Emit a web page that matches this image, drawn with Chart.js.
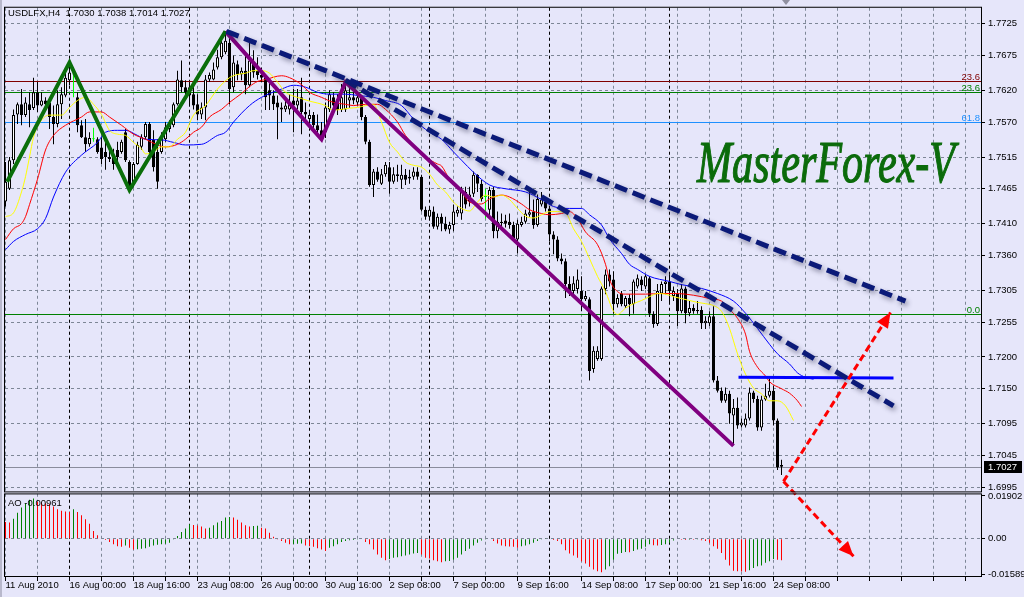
<!DOCTYPE html>
<html><head><meta charset="utf-8">
<script src="https://cdn.jsdelivr.net/npm/chart.js@4.4.1/dist/chart.umd.min.js"></script>
<style>html,body{margin:0;padding:0;background:#E6E6FA;}canvas{display:block;}</style>
</head><body>
<canvas id="c" width="1024" height="597"></canvas>
<script>
const symbol = 'USDLFX', timeframe = 'H4';
const openP = [1.7445,1.7465,1.7510,1.7582,1.7598,1.7581,1.7598,1.7592,1.7617,1.7596,
1.7604,1.7601,1.7578,1.7567,1.7598,1.7612,1.7636,1.7645,1.7609,1.7565,
1.7546,1.7535,1.7543,1.7543,1.7530,1.7523,1.7515,1.7518,1.7526,1.7523,
1.7554,1.7507,1.7471,1.7504,1.7531,1.7546,1.7567,1.7542,1.7523,1.7523,
1.7543,1.7559,1.7565,1.7598,1.7636,1.7625,1.7625,1.7614,1.7598,1.7582,
1.7593,1.7637,1.7637,1.7656,1.7672,1.7680,1.7695,1.7625,1.7661,1.7645,
1.7651,1.7628,1.7664,1.7651,1.7644,1.7640,1.7620,1.7612,1.7601,1.7593,
1.7590,1.7590,1.7604,1.7596,1.7609,1.7586,1.7575,1.7581,1.7565,1.7557,
1.7554,1.7590,1.7609,1.7606,1.7589,1.7590,1.7604,1.7609,1.7601,1.7609,
1.7578,1.7539,1.7471,1.7492,1.7473,1.7488,1.7499,1.7476,1.7488,1.7479,
1.7487,1.7481,1.7484,1.7492,1.7484,1.7432,1.7421,1.7429,1.7405,1.7421,
1.7410,1.7401,1.7408,1.7426,1.7426,1.7460,1.7445,1.7457,1.7487,1.7473,
1.7452,1.7432,1.7463,1.7398,1.7413,1.7415,1.7413,1.7408,1.7385,1.7408,
1.7413,1.7424,1.7429,1.7408,1.7440,1.7445,1.7434,1.7393,1.7385,1.7355,
1.7351,1.7315,1.7304,1.7307,1.7304,1.7291,1.7291,1.7181,1.7197,1.7197,
1.7307,1.7330,1.7322,1.7283,1.7300,1.7280,1.7293,1.7283,1.7311,1.7322,
1.7311,1.7324,1.7268,1.7252,1.7300,1.7315,1.7319,1.7296,1.7300,1.7272,
1.7308,1.7269,1.7277,1.7272,1.7274,1.7253,1.7253,1.7264,1.7163,1.7147,
1.7131,1.7142,1.7108,1.7120,1.7092,1.7092,1.7103,1.7144,1.7134,1.7089,
1.7133,1.7139,1.7147,1.7100,1.7030];
const highP = [1.7507,1.7515,1.7590,1.7601,1.7622,1.7609,1.7617,1.7640,1.7633,1.7617,
1.7609,1.7609,1.7596,1.7620,1.7625,1.7648,1.7664,1.7653,1.7617,1.7573,
1.7575,1.7554,1.7561,1.7546,1.7546,1.7539,1.7528,1.7528,1.7539,1.7542,
1.7559,1.7510,1.7507,1.7539,1.7551,1.7570,1.7570,1.7557,1.7543,1.7554,
1.7570,1.7573,1.7601,1.7651,1.7667,1.7636,1.7633,1.7628,1.7614,1.7601,
1.7644,1.7648,1.7664,1.7684,1.7706,1.7713,1.7703,1.7675,1.7667,1.7656,
1.7675,1.7695,1.7683,1.7672,1.7656,1.7644,1.7636,1.7620,1.7612,1.7601,
1.7604,1.7614,1.7622,1.7622,1.7640,1.7601,1.7586,1.7586,1.7582,1.7570,
1.7601,1.7620,1.7617,1.7614,1.7630,1.7633,1.7625,1.7620,1.7617,1.7612,
1.7581,1.7542,1.7496,1.7499,1.7496,1.7507,1.7507,1.7499,1.7503,1.7503,
1.7496,1.7495,1.7499,1.7499,1.7487,1.7437,1.7437,1.7437,1.7426,1.7426,
1.7421,1.7413,1.7440,1.7437,1.7468,1.7468,1.7468,1.7492,1.7488,1.7479,
1.7465,1.7468,1.7468,1.7429,1.7426,1.7424,1.7426,1.7413,1.7416,1.7421,
1.7432,1.7460,1.7448,1.7456,1.7460,1.7452,1.7437,1.7398,1.7390,1.7363,
1.7355,1.7327,1.7327,1.7338,1.7327,1.7304,1.7294,1.7217,1.7217,1.7311,
1.7338,1.7338,1.7335,1.7299,1.7304,1.7296,1.7299,1.7322,1.7330,1.7327,
1.7330,1.7327,1.7272,1.7315,1.7319,1.7327,1.7330,1.7311,1.7307,1.7315,
1.7311,1.7288,1.7283,1.7288,1.7280,1.7264,1.7272,1.7280,1.7170,1.7152,
1.7152,1.7147,1.7134,1.7136,1.7103,1.7111,1.7152,1.7147,1.7139,1.7139,
1.7158,1.7166,1.7155,1.7103,1.7038];
const lowP = [1.7437,1.7463,1.7504,1.7567,1.7565,1.7578,1.7562,1.7589,1.7586,1.7595,
1.7595,1.7559,1.7535,1.7562,1.7575,1.7609,1.7628,1.7609,1.7554,1.7545,
1.7523,1.7531,1.7539,1.7520,1.7504,1.7495,1.7507,1.7495,1.7499,1.7520,
1.7507,1.7463,1.7467,1.7503,1.7526,1.7543,1.7520,1.7492,1.7465,1.7520,
1.7539,1.7554,1.7562,1.7596,1.7617,1.7609,1.7596,1.7590,1.7573,1.7575,
1.7573,1.7633,1.7636,1.7653,1.7669,1.7677,1.7598,1.7617,1.7636,1.7636,
1.7614,1.7625,1.7640,1.7637,1.7633,1.7589,1.7589,1.7589,1.7543,1.7570,
1.7586,1.7582,1.7554,1.7590,1.7551,1.7570,1.7567,1.7559,1.7550,1.7543,
1.7545,1.7586,1.7586,1.7581,1.7586,1.7586,1.7592,1.7598,1.7596,1.7573,
1.7535,1.7468,1.7452,1.7476,1.7471,1.7484,1.7457,1.7473,1.7476,1.7465,
1.7471,1.7473,1.7479,1.7479,1.7429,1.7416,1.7418,1.7402,1.7401,1.7398,
1.7398,1.7394,1.7398,1.7421,1.7416,1.7434,1.7437,1.7452,1.7460,1.7445,
1.7418,1.7421,1.7387,1.7387,1.7405,1.7404,1.7402,1.7382,1.7363,1.7405,
1.7410,1.7421,1.7402,1.7405,1.7437,1.7429,1.7382,1.7362,1.7351,1.7346,
1.7293,1.7296,1.7296,1.7300,1.7272,1.7288,1.7163,1.7175,1.7194,1.7194,
1.7299,1.7311,1.7268,1.7278,1.7280,1.7277,1.7264,1.7268,1.7308,1.7304,
1.7307,1.7263,1.7246,1.7249,1.7288,1.7299,1.7285,1.7288,1.7249,1.7269,
1.7253,1.7264,1.7268,1.7268,1.7244,1.7244,1.7249,1.7160,1.7144,1.7128,
1.7128,1.7095,1.7061,1.7087,1.7089,1.7089,1.7100,1.7128,1.7084,1.7084,
1.7131,1.7136,1.7092,1.7022,1.7014];
const closeP = [1.7476,1.7510,1.7581,1.7598,1.7581,1.7601,1.7589,1.7617,1.7596,1.7604,
1.7598,1.7578,1.7567,1.7598,1.7614,1.7640,1.7648,1.7645,1.7565,1.7546,
1.7535,1.7545,1.7543,1.7523,1.7512,1.7515,1.7512,1.7504,1.7515,1.7539,
1.7510,1.7468,1.7504,1.7534,1.7546,1.7567,1.7523,1.7499,1.7476,1.7546,
1.7562,1.7567,1.7598,1.7637,1.7625,1.7617,1.7612,1.7596,1.7582,1.7593,
1.7637,1.7644,1.7653,1.7672,1.7695,1.7698,1.7622,1.7664,1.7645,1.7651,
1.7628,1.7667,1.7648,1.7644,1.7640,1.7609,1.7612,1.7598,1.7593,1.7590,
1.7596,1.7601,1.7596,1.7604,1.7586,1.7582,1.7581,1.7565,1.7557,1.7546,
1.7593,1.7614,1.7596,1.7589,1.7609,1.7620,1.7609,1.7604,1.7609,1.7578,
1.7539,1.7471,1.7492,1.7479,1.7488,1.7503,1.7476,1.7488,1.7485,1.7487,
1.7479,1.7484,1.7492,1.7484,1.7432,1.7421,1.7432,1.7405,1.7421,1.7410,
1.7401,1.7408,1.7429,1.7432,1.7460,1.7440,1.7456,1.7487,1.7473,1.7449,
1.7452,1.7463,1.7398,1.7413,1.7411,1.7410,1.7408,1.7387,1.7410,1.7413,
1.7426,1.7428,1.7408,1.7449,1.7448,1.7434,1.7393,1.7385,1.7355,1.7351,
1.7315,1.7304,1.7316,1.7322,1.7291,1.7296,1.7178,1.7210,1.7210,1.7308,
1.7330,1.7319,1.7283,1.7293,1.7283,1.7293,1.7283,1.7319,1.7324,1.7313,
1.7327,1.7268,1.7252,1.7304,1.7315,1.7319,1.7304,1.7304,1.7272,1.7308,
1.7269,1.7277,1.7272,1.7274,1.7253,1.7257,1.7264,1.7163,1.7147,1.7131,
1.7142,1.7111,1.7120,1.7092,1.7097,1.7103,1.7144,1.7134,1.7089,1.7133,
1.7139,1.7147,1.7100,1.7026,1.7027];
const aoValues = [0.0074,0.0072,0.0089,0.0116,0.0139,0.0158,0.0173,0.0179,0.0164,0.0161,
0.0158,0.0154,0.0143,0.0131,0.0124,0.0121,0.0119,0.0131,0.0119,0.0104,
0.0087,0.0067,0.0034,0.0015,-0.0002,-0.0006,-0.0015,-0.0025,-0.0033,-0.0036,
-0.0030,-0.0040,-0.0048,-0.0047,-0.0045,-0.0042,-0.0036,-0.0030,-0.0027,-0.0025,
-0.0022,-0.0018,-0.0003,0.0012,0.0030,0.0045,0.0064,0.0061,0.0059,0.0054,
0.0045,0.0049,0.0060,0.0072,0.0079,0.0094,0.0097,0.0094,0.0084,0.0072,
0.0060,0.0054,0.0057,0.0058,0.0049,0.0045,0.0027,0.0009,-0.0001,-0.0010,
-0.0018,-0.0024,-0.0023,-0.0022,-0.0021,-0.0030,-0.0033,-0.0036,-0.0042,-0.0048,
-0.0055,-0.0040,-0.0033,-0.0025,-0.0015,-0.0010,-0.0007,-0.0006,-0.0003,-0.0002,
-0.0015,-0.0025,-0.0048,-0.0070,-0.0085,-0.0096,-0.0090,-0.0085,-0.0082,-0.0078,
-0.0075,-0.0070,-0.0066,-0.0063,-0.0070,-0.0085,-0.0088,-0.0096,-0.0100,-0.0105,
-0.0100,-0.0099,-0.0093,-0.0085,-0.0070,-0.0055,-0.0045,-0.0030,-0.0018,-0.0008,
-0.0003,-0.0002,-0.0010,-0.0021,-0.0030,-0.0033,-0.0034,-0.0036,-0.0040,-0.0033,
-0.0030,-0.0025,-0.0018,-0.0010,-0.0003,0.0001,-0.0002,-0.0006,-0.0010,-0.0025,
-0.0051,-0.0066,-0.0075,-0.0085,-0.0100,-0.0110,-0.0125,-0.0137,-0.0145,-0.0149,
-0.0137,-0.0122,-0.0093,-0.0067,-0.0063,-0.0059,-0.0060,-0.0055,-0.0048,-0.0045,
-0.0036,-0.0025,-0.0029,-0.0030,-0.0028,-0.0025,-0.0018,-0.0008,-0.0002,-0.0004,
-0.0006,-0.0004,-0.0005,-0.0003,-0.0007,-0.0010,-0.0018,-0.0033,-0.0045,-0.0063,
-0.0093,-0.0119,-0.0142,-0.0145,-0.0146,-0.0147,-0.0140,-0.0130,-0.0122,-0.0119,
-0.0107,-0.0100,-0.0090,-0.0093,-0.00961];

// Moving averages (plotted at their shifted bar positions)
const yellowBars = [0,2,4,5,6,7,9,11,14,16,18,20,22,24,26,28,30,32,34,35,37,39,41,43,45,47,50,53,56,58,60,62,64,66,68,70,72,74,76,78,80,82,84,86,88,90,92,94,96,98,100,102,104,106,108,110,112,114,116,118,120,122,124,126,128,130,132,134,136,138,140,142,144,146,148,150,152,153,155,157,159,161,163,165,167,169,171,173,175,177,179,181,183,185,187,189,191,193,195,197];
const yellowVals = [1.7421,1.7427,1.7460,1.7484,1.7515,1.7546,1.7573,1.7581,1.7581,1.7593,1.7604,1.7609,1.7598,1.7582,1.7557,1.7551,1.7549,1.7538,1.7528,1.7520,1.7523,1.7531,1.7531,1.7543,1.7554,1.7581,1.7596,1.7622,1.7640,1.7645,1.7647,1.7651,1.7651,1.7647,1.7633,1.7617,1.7611,1.7607,1.7603,1.7600,1.7596,1.7589,1.7590,1.7592,1.7593,1.7596,1.7598,1.7570,1.7538,1.7523,1.7507,1.7502,1.7499,1.7488,1.7471,1.7460,1.7444,1.7434,1.7430,1.7444,1.7455,1.7452,1.7455,1.7448,1.7434,1.7422,1.7419,1.7424,1.7429,1.7429,1.7427,1.7402,1.7382,1.7355,1.7327,1.7303,1.7272,1.7267,1.7277,1.7284,1.7289,1.7295,1.7300,1.7299,1.7295,1.7292,1.7289,1.7286,1.7284,1.7281,1.7272,1.7245,1.7205,1.7173,1.7151,1.7142,1.7131,1.7131,1.7123,1.7100];
const redBars = [0,2,4,5,6,8,10,12,15,19,21,24,26,29,32,35,38,40,43,45,47,49,51,54,56,59,61,63,65,69,71,74,76,79,82,85,87,90,93,95,98,100,103,105,108,109,111,114,116,119,121,124,126,129,131,134,136,139,141,143,145,148,150,151,153,155,157,160,164,167,170,174,176,179,181,183,185,186,188,190,191,194,196,198,199];
const redVals = [1.7385,1.7402,1.7410,1.7421,1.7440,1.7480,1.7526,1.7549,1.7565,1.7578,1.7586,1.7586,1.7578,1.7565,1.7551,1.7543,1.7534,1.7531,1.7535,1.7543,1.7554,1.7562,1.7578,1.7590,1.7601,1.7615,1.7626,1.7634,1.7637,1.7643,1.7640,1.7629,1.7617,1.7609,1.7601,1.7598,1.7596,1.7598,1.7598,1.7590,1.7570,1.7549,1.7528,1.7515,1.7504,1.7501,1.7480,1.7460,1.7444,1.7441,1.7449,1.7455,1.7452,1.7441,1.7432,1.7426,1.7424,1.7426,1.7429,1.7418,1.7397,1.7377,1.7346,1.7322,1.7303,1.7299,1.7299,1.7299,1.7300,1.7300,1.7299,1.7295,1.7292,1.7288,1.7275,1.7261,1.7236,1.7209,1.7184,1.7170,1.7161,1.7150,1.7143,1.7131,1.7122];
const blueBars = [0,2,5,8,10,12,15,19,23,25,28,30,33,35,39,42,45,49,53,55,57,61,64,69,72,75,78,81,85,88,92,95,99,102,106,109,112,114,117,121,125,130,134,137,141,144,146,149,151,154,156,158,161,166,169,174,178,182,185,188,191,193,196,198,200,202];
const blueVals = [1.7369,1.7382,1.7393,1.7402,1.7418,1.7452,1.7491,1.7518,1.7538,1.7554,1.7557,1.7557,1.7549,1.7543,1.7542,1.7538,1.7534,1.7535,1.7549,1.7554,1.7570,1.7596,1.7609,1.7622,1.7628,1.7625,1.7617,1.7614,1.7614,1.7612,1.7609,1.7604,1.7596,1.7575,1.7554,1.7543,1.7523,1.7510,1.7491,1.7471,1.7465,1.7460,1.7448,1.7437,1.7434,1.7434,1.7424,1.7408,1.7386,1.7363,1.7346,1.7338,1.7327,1.7319,1.7314,1.7308,1.7300,1.7288,1.7269,1.7245,1.7220,1.7205,1.7189,1.7175,1.7168,1.7165];

// Axis ticks
const priceTicks = [1.7725,1.7675,1.7620,1.7570,1.7515,1.7465,1.7410,1.7360,1.7305,1.7255,1.7200,1.7150,1.7095,1.7045,1.6995];
const aoTicks = [0.01902, 0, -0.01589];
const aoTickLabels = ['0.01902', '0.00', '-0.01589'];
const xTickBars = [0,16,32,48,64,80,96,112,128,144,160,176,192];
const xTickLabels = ['11 Aug 2010','16 Aug 00:00','18 Aug 16:00','23 Aug 08:00','26 Aug 00:00','30 Aug 16:00','2 Sep 08:00','7 Sep 00:00','9 Sep 16:00','14 Sep 08:00','17 Sep 00:00','21 Sep 16:00','24 Sep 08:00'];
const weekStartBars = [16,46,76,106,136,166];

// Fibonacci levels
const fiboLevels = [1.7634, 1.7617, 1.7570, 1.7267];
const fiboLabels = ['23.6', '23.6', '61.8', '0.0'];

// Drawn objects (bar index, price)
const zigGreenBars = [0.4,16,31,55], zigGreenPrices = [1.7476,1.7664,1.7463,1.7713];
const zigPurpleBars = [55,79,85,182], zigPurplePrices = [1.7713,1.7543,1.7633,1.7060];
const trend1Bars = [55.25,225], trend1Prices = [1.7713,1.7288];
const trend2Bars = [85,222], trend2Prices = [1.7636,1.7123];
const levelBars = [183.25,222], levelPrices = [1.7168,1.7167];
const arrowUpBars = [194.5,221.25], arrowUpPrices = [1.7004,1.7270];
const arrowDownBars = [194.5,212], arrowDownPrices = [1.7004,1.6886];

const watermarkText = 'MasterForex-V';

// ---------- build ----------
const BG = '#E6E6FA';
const GRID = '#7d8696';
const FAM = "'Liberation Sans', Arial, sans-serif";
const axisFont = {family: FAM, size: 9.5, lineHeight: 1};
const N = closeP.length;
const last = N - 1;
const idx = closeP.map((_, i) => i);
const pts = (bs, vs) => bs.map((b, k) => ({x: b, y: vs[k]}));
const isDoji = i => openP[i] === closeP[i];
const wickData = idx.map(i => ({x: i, y: [lowP[i], highP[i]]}));
const bodyData = idx.map(i => ({x: i, y: [openP[i], closeP[i]]}));
const bodyFill = idx.map(i => isDoji(i) ? '#00FF00' : (closeP[i] > openP[i] ? '#FFFFFF' : '#000000'));
const bodyLine = idx.map(i => isDoji(i) ? '#00FF00' : '#000000');
const aoData = aoValues.map((v, i) => ({x: i, y: v}));
const aoColors = aoValues.map((v, i) => (i > 0 && v > aoValues[i - 1]) ? '#008000' : '#FF0000');

const lineDs = (label, data, color, width, order, extra) => Object.assign({
  type: 'line', label, data, borderColor: color, backgroundColor: color, borderWidth: width,
  pointRadius: 0, yAxisID: 'y', order, fill: false
}, extra || {});

const overlay = {
  id: 'overlay',
  beforeDraw(c) {
    const ctx = c.ctx;
    ctx.save(); ctx.fillStyle = BG; ctx.fillRect(0, 0, c.width, c.height); ctx.restore();
  },
  beforeDatasetsDraw(c) {
    const {ctx} = c; const {x, y, ao} = c.scales;
    ctx.save();
    ctx.lineWidth = 1;
    // weekly period separators
    ctx.strokeStyle = '#000'; ctx.setLineDash([3, 3]);
    weekStartBars.forEach(b => {
      const px = Math.floor(x.getPixelForValue(b)) + 0.5;
      ctx.beginPath(); ctx.moveTo(px, y.top); ctx.lineTo(px, ao.bottom); ctx.stroke();
    });
    ctx.setLineDash([]);
    // clip to main panel
    ctx.beginPath(); ctx.rect(x.left, y.top, x.right - x.left, y.bottom - y.top); ctx.clip();
    const fiboColors = ['#800000', '#008000', '#1E90FF', '#008000'];
    fiboLevels.forEach((lv, k) => {
      const py = Math.round(y.getPixelForValue(lv)) + 0.5;
      ctx.strokeStyle = fiboColors[k];
      ctx.beginPath(); ctx.moveTo(x.left, py); ctx.lineTo(x.right, py); ctx.stroke();
      ctx.fillStyle = fiboColors[k];
      ctx.font = '9.5px ' + FAM; ctx.textAlign = 'right'; ctx.textBaseline = 'alphabetic';
      ctx.fillText(fiboLabels[k], x.right - 1, py - 2);
    });
    // bid line
    const by = Math.round(y.getPixelForValue(closeP[last])) + 0.5;
    ctx.strokeStyle = '#8a8c9c';
    ctx.beginPath(); ctx.moveTo(x.left, by); ctx.lineTo(x.right, by); ctx.stroke();
    // watermark
    ctx.font = "italic 60px 'Liberation Serif', serif";
    const w = ctx.measureText(watermarkText).width;
    ctx.translate(697, 182); ctx.scale(258 / w, 1);
    ctx.fillStyle = '#0b6b0b'; ctx.textAlign = 'left';
    ctx.strokeStyle = '#0b6b0b'; ctx.lineWidth = 1.2;
    ctx.fillText(watermarkText, 0, 0);
    ctx.strokeText(watermarkText, 0, 0);
    ctx.restore();
  },
  beforeDatasetDraw(c, args) {
    const ds = c.data.datasets[args.index];
    if (ds.shadow) {
      c.ctx.save();
      c.ctx.shadowColor = 'rgba(40,40,70,0.45)';
      c.ctx.shadowBlur = 5; c.ctx.shadowOffsetX = 2; c.ctx.shadowOffsetY = 3;
    }
  },
  afterDatasetDraw(c, args) {
    const ds = c.data.datasets[args.index];
    if (ds.shadow) c.ctx.restore();
  },
  afterDatasetsDraw(c) {
    const ctx = c.ctx;
    c.data.datasets.forEach((ds, i) => {
      if (!ds.arrow) return;
      const pts = c.getDatasetMeta(i).data;
      const p1 = pts[pts.length - 2], p2 = pts[pts.length - 1];
      const a = Math.atan2(p2.y - p1.y, p2.x - p1.x);
      const len = 15, hw = 6.5;
      ctx.save();
      ctx.translate(p2.x, p2.y); ctx.rotate(a);
      ctx.fillStyle = '#FF0000';
      ctx.beginPath(); ctx.moveTo(0, 0); ctx.lineTo(-len, -hw); ctx.lineTo(-len, hw); ctx.closePath(); ctx.fill();
      ctx.restore();
    });
  },
  afterDraw(c) {
    const {ctx} = c; const {x, y, ao} = c.scales;
    ctx.save();
    // gap between panels
    ctx.fillStyle = BG;
    ctx.fillRect(x.left - 1, y.bottom, x.right - x.left + 2, 1);
    ctx.strokeStyle = '#000'; ctx.lineWidth = 1;
    ctx.strokeRect(x.left - 0.5, y.top - 0.5, x.right - x.left + 1, y.bottom - y.top);
    ctx.strokeRect(x.left - 0.5, y.bottom + 1.5, x.right - x.left + 1, ao.bottom - y.bottom - 2);
    // window edge
    ctx.fillStyle = '#B8B8CC'; ctx.fillRect(0, 0, 2, c.height);
    // chart shift marker
    ctx.fillStyle = '#9090A0';
    const sx = 786;
    ctx.beginPath(); ctx.moveTo(sx - 4, 0); ctx.lineTo(sx + 4, 0); ctx.lineTo(sx, 5); ctx.closePath(); ctx.fill();
    // titles
    ctx.fillStyle = '#000'; ctx.font = '9.5px ' + FAM; ctx.textAlign = 'left'; ctx.textBaseline = 'alphabetic';
    const title = symbol + ',' + timeframe + '  ' + [openP[last], highP[last], lowP[last], closeP[last]].map(v => v.toFixed(4)).join(' ');
    ctx.fillText(title, 8, 16);
    ctx.fillText('AO ' + aoValues[last].toFixed(5), 8, 506);
    // current price box
    const py = y.getPixelForValue(closeP[last]);
    ctx.fillStyle = '#000';
    ctx.fillRect(x.right + 3, Math.round(py) - 6, 38, 12);
    ctx.fillStyle = '#FFF';
    ctx.textBaseline = 'middle';
    ctx.fillText(closeP[last].toFixed(4), x.right + 7, Math.round(py) + 0.5);
    ctx.restore();
  }
};

const chart = new Chart(document.getElementById('c'), {
  type: 'bar',
  data: {
    datasets: [
      {type: 'bar', label: 'AO', data: aoData, yAxisID: 'ao', backgroundColor: aoColors, barThickness: 1, grouped: false, order: 10, inflateAmount: 0, borderWidth: 0},
      {type: 'bar', label: 'Wicks', data: wickData, yAxisID: 'y', backgroundColor: bodyLine, barThickness: 1, grouped: false, order: 9, inflateAmount: 0, borderWidth: 0},
      {type: 'bar', label: 'Bodies', data: bodyData, yAxisID: 'y', backgroundColor: bodyFill, borderColor: bodyLine, borderWidth: 1, borderSkipped: false, barThickness: 3, grouped: false, order: 8, inflateAmount: 0, minBarLength: 1},
      lineDs('Lips', pts(yellowBars, yellowVals), '#FFFF00', 1, 7, {cubicInterpolationMode: 'monotone'}),
      lineDs('Teeth', pts(redBars, redVals), '#FF0000', 1, 7, {cubicInterpolationMode: 'monotone'}),
      lineDs('Jaw', pts(blueBars, blueVals), '#0000FF', 1, 7, {cubicInterpolationMode: 'monotone'}),
      lineDs('ZigZag up', pts(zigGreenBars, zigGreenPrices), '#0A6E0A', 4, 5),
      lineDs('ZigZag down', pts(zigPurpleBars, zigPurplePrices), '#800080', 4, 5),
      lineDs('Level', pts(levelBars, levelPrices), '#0000FF', 3, 4),
      lineDs('Trend 1', pts(trend1Bars, trend1Prices), '#0B1A78', 5, 3, {borderDash: [13, 6], shadow: true}),
      lineDs('Trend 2', pts(trend2Bars, trend2Prices), '#0B1A78', 5, 3, {borderDash: [13, 6], shadow: true}),
      lineDs('Arrow up', pts(arrowUpBars, arrowUpPrices), '#FF0000', 3, 1, {borderDash: [7, 4], arrow: true, clip: false}),
      lineDs('Arrow down', pts(arrowDownBars, arrowDownPrices), '#FF0000', 3, 1, {borderDash: [7, 4], arrow: true, clip: false})
    ]
  },
  options: {
    responsive: false, animation: false, devicePixelRatio: 1, events: [],
    layout: {padding: {left: 5, top: 5, right: 0, bottom: 0}},
    plugins: {legend: {display: false}, tooltip: {enabled: false}, title: {display: false}},
    scales: {
      x: {
        type: 'linear', position: 'bottom', min: -0.125, max: 243.875, offset: false,
        afterBuildTicks(a) { const t = []; for (let v = 0; v <= 240; v += 8) t.push({value: v}); a.ticks = t; },
        afterFit(a) { a.height = 20; },
        grid: {color: GRID, offset: false, drawTicks: true, tickLength: 4, tickColor: '#000', tickBorderDash: []},
        border: {display: false, dash: [3, 3]},
        ticks: {
          autoSkip: false, maxRotation: 0, minRotation: 0, align: 'start', padding: 0,
          font: axisFont, color: '#000',
          callback(v) { const k = xTickBars.indexOf(v); return k >= 0 ? xTickLabels[k] : ''; }
        }
      },
      y: {
        type: 'linear', position: 'right', stack: 'panes', stackWeight: 487,
        min: 1.69867, max: 1.77501,
        afterBuildTicks(a) { a.ticks = priceTicks.map(v => ({value: v})); },
        afterFit(a) { a.width = 43; },
        grid: {color: GRID, drawTicks: true, tickLength: 4, tickColor: '#000', tickBorderDash: []},
        border: {display: false, dash: [3, 3]},
        ticks: {font: axisFont, color: '#000', padding: 3, callback: v => v.toFixed(4)}
      },
      ao: {
        type: 'linear', position: 'right', stack: 'panes', stackWeight: 85,
        min: -0.01701, max: 0.02059,
        afterBuildTicks(a) { a.ticks = aoTicks.map(v => ({value: v})); },
        afterFit(a) { a.width = 43; },
        grid: {color: ctx => (ctx.tick && ctx.tick.value === 0) ? GRID : 'rgba(0,0,0,0)', drawTicks: true, tickLength: 4, tickColor: '#000', tickBorderDash: []},
        border: {display: false, dash: [3, 3]},
        ticks: {font: axisFont, color: '#000', padding: 3, callback: (v, i) => aoTickLabels[i]}
      }
    }
  },
  plugins: [overlay]
});
</script>
</body></html>
